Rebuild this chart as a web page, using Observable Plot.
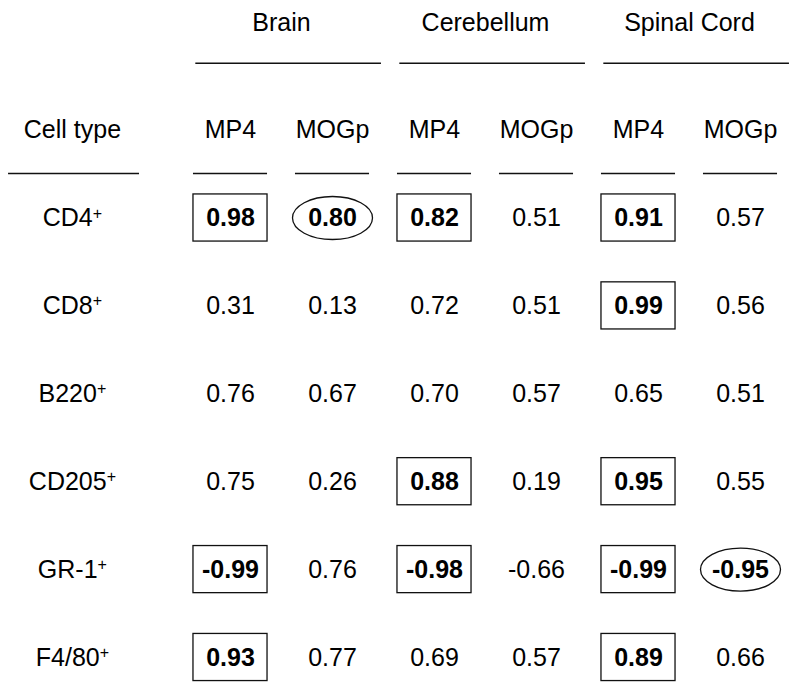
<!DOCTYPE html>
<html>
<head>
<meta charset="utf-8">
<script src="https://cdn.jsdelivr.net/npm/d3@7"></script>
<script src="https://cdn.jsdelivr.net/npm/@observablehq/plot@0.6"></script>
<style>
  html, body { margin: 0; padding: 0; background: #fff; }
  svg { display: block; }
</style>
</head>
<body>
<div id="chart"></div>
<script>
// ---- data ----
const tissues = ["Brain", "Cerebellum", "Spinal Cord"];
const antigens = ["MP4", "MOGp"];
const rowHeader = "Cell type";
const cellTypes = ["CD4⁺", "CD8⁺", "B220⁺", "CD205⁺", "GR-1⁺", "F4/80⁺"];
// columns: Brain MP4, Brain MOGp, Cerebellum MP4, Cerebellum MOGp, Spinal Cord MP4, Spinal Cord MOGp
const values = [
  [0.98, 0.80, 0.82, 0.51, 0.91, 0.57],
  [0.31, 0.13, 0.72, 0.51, 0.99, 0.56],
  [0.76, 0.67, 0.70, 0.57, 0.65, 0.51],
  [0.75, 0.26, 0.88, 0.19, 0.95, 0.55],
  [-0.99, 0.76, -0.98, -0.66, -0.99, -0.95],
  [0.93, 0.77, 0.69, 0.57, 0.89, 0.66]
];
// "box" = boxed & bold, "oval" = circled & bold, "" = plain
const highlights = [
  ["box", "oval", "box", "", "box", ""],
  ["", "", "", "", "box", ""],
  ["", "", "", "", "", ""],
  ["", "", "box", "", "box", ""],
  ["box", "", "box", "", "box", "oval"],
  ["box", "", "", "", "box", ""]
];

// ---- derived tables ----
const cells = [];
values.forEach((row, r) => row.forEach((v, c) => cells.push({
  row: r, col: c, value: v, label: v.toFixed(2), hl: highlights[r][c]
})));
const subHeads = [];
tissues.forEach((t, g) => antigens.forEach((a, k) => subHeads.push({col: g * 2 + k, label: a})));
const groups = tissues.map((t, g) => ({label: t, col: g * 2 + 0.5, x1: g * 2 - 0.34, x2: g * 2 + 1.48}));
const rowLabels = cellTypes.map((c, r) => ({row: r, label: c}));

const LABEL_COL = -1.55;
const GROUP_ROW = -2.218, GROUP_LINE = -1.761, HEAD_ROW = -1, HEAD_LINE = -0.506;
const HALF = 0.363;

const ellipse = {
  draw(ctx) {
    const rx = 40, ry = 21.5, k = 0.5523;
    ctx.moveTo(rx, 0);
    ctx.bezierCurveTo(rx, k * ry, k * rx, ry, 0, ry);
    ctx.bezierCurveTo(-k * rx, ry, -rx, k * ry, -rx, 0);
    ctx.bezierCurveTo(-rx, -k * ry, -k * rx, -ry, 0, -ry);
    ctx.bezierCurveTo(k * rx, -ry, rx, -k * ry, rx, 0);
    ctx.closePath();
  }
};

const font = 25;
const chart = Plot.plot({
  width: 800,
  height: 694,
  margin: 0,
  style: {fontFamily: "'Liberation Sans', Arial, sans-serif", background: "#fff", color: "#000"},
  x: {type: "linear", domain: [0, 5], range: [230, 740], axis: null},
  y: {type: "linear", domain: [0, 5], range: [217.5, 657], axis: null},
  marks: [
    // group headers and their rules
    Plot.text(groups, {x: "col", y: () => GROUP_ROW, text: "label", fontSize: font, fill: "#000"}),
    Plot.ruleY(groups, {y: () => GROUP_LINE, x1: "x1", x2: "x2", stroke: "#111", strokeWidth: 1.4}),
    // sub headers
    Plot.text([rowHeader], {x: () => LABEL_COL, y: () => HEAD_ROW, text: d => d, fontSize: font, fill: "#000"}),
    Plot.text(subHeads, {x: "col", y: () => HEAD_ROW, text: "label", fontSize: font, fill: "#000"}),
    Plot.ruleY([rowHeader], {y: () => HEAD_LINE, x1: () => -2.176, x2: () => -0.892, stroke: "#111", strokeWidth: 1.4}),
    Plot.ruleY(subHeads, {y: () => HEAD_LINE, x1: d => d.col - HALF, x2: d => d.col + HALF, stroke: "#111", strokeWidth: 1.4}),
    // row labels
    Plot.text(rowLabels, {x: () => LABEL_COL, y: "row", text: "label", fontSize: font, fill: "#000", className: "rowlab"}),
    // highlight frames
    Plot.rect(cells.filter(d => d.hl === "box"), {
      x1: d => d.col - HALF, x2: d => d.col + HALF,
      y1: d => d.row - 0.268, y2: d => d.row + 0.268,
      fill: "none", stroke: "#111", strokeWidth: 1.3
    }),
    Plot.dot(cells.filter(d => d.hl === "oval"), {
      x: "col", y: "row", symbol: ellipse, r: 20, fill: "none", stroke: "#111", strokeWidth: 1.3
    }),
    // values
    Plot.text(cells.filter(d => !d.hl), {
      x: "col", y: "row", text: "label", fontSize: font, fill: "#000"
    }),
    Plot.text(cells.filter(d => d.hl), {
      x: "col", y: "row", text: "label", fontSize: font, fill: "#000", fontWeight: "bold"
    })
  ]
});
document.getElementById("chart").appendChild(chart);

// render the superscript plus signs as smaller raised text
chart.querySelectorAll("g.rowlab text").forEach(t => {
  const s = t.textContent;
  if (s.endsWith("⁺")) {
    t.textContent = s.slice(0, -1);
    const ts = document.createElementNS("http://www.w3.org/2000/svg", "tspan");
    ts.setAttribute("font-size", "16");
    ts.setAttribute("dy", "-7.5");
    ts.textContent = "+";
    t.appendChild(ts);
  }
});
</script>
</body>
</html>
